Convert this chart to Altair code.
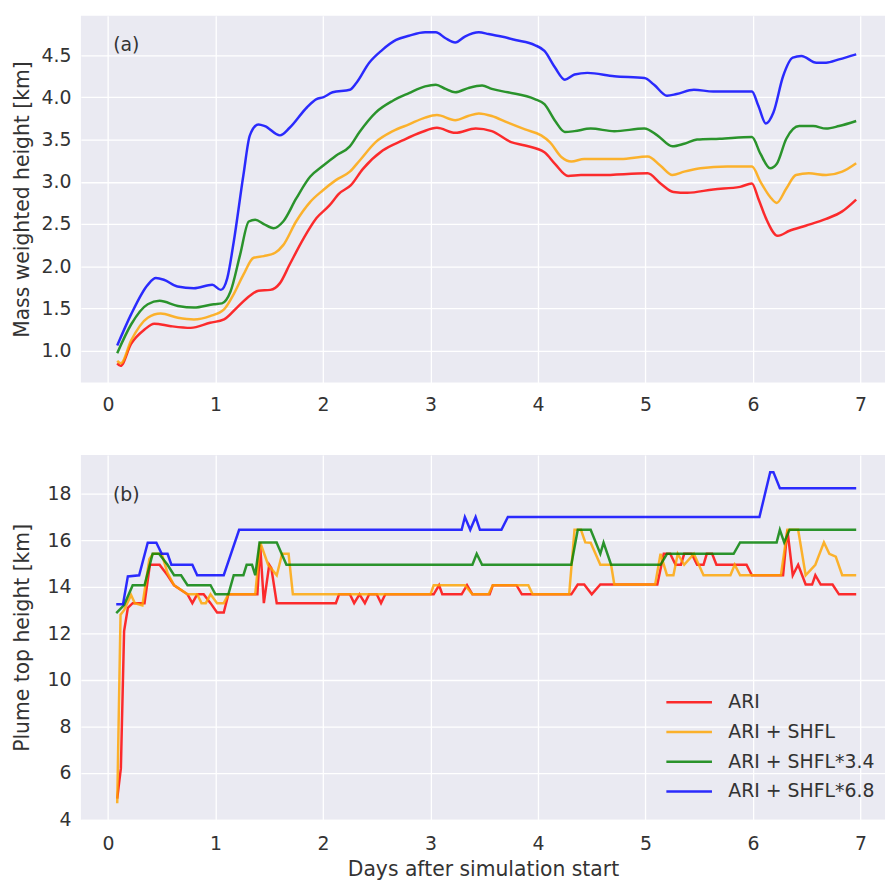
import altair as alt
import pandas as pd

series_names = ["ARI", "ARI + SHFL", "ARI + SHFL*3.4", "ARI + SHFL*6.8"]
series_colors = ["red", "orange", "green", "blue"]

# ---------------- panel (a): mass weighted height [km] ----------------
a_days_ari = [0.086, 0.117, 0.215, 0.34, 0.43, 0.585, 0.77, 0.95, 1.08, 1.20, 1.32, 1.40, 1.51, 1.60,
              1.69, 1.82, 1.94, 2.06, 2.15, 2.26, 2.37, 2.555, 2.74, 2.92, 3.06, 3.23, 3.42, 3.57, 3.75,
              3.88, 4.06, 4.16, 4.28, 4.40, 4.58, 5.02, 5.14, 5.26, 5.39, 5.63, 5.88, 5.99, 6.05, 6.12,
              6.23, 6.34, 6.49, 6.68, 6.83, 6.96]
a_ari = [0.85, 0.82, 1.08, 1.25, 1.32, 1.29, 1.27, 1.33, 1.37, 1.51, 1.65, 1.71, 1.72, 1.80,
         2.02, 2.33, 2.57, 2.72, 2.86, 2.96, 3.15, 3.37, 3.49, 3.59, 3.64, 3.58, 3.63, 3.60, 3.47,
         3.43, 3.35, 3.21, 3.07, 3.08, 3.08, 3.10, 2.98, 2.88, 2.87, 2.91, 2.94, 2.98, 2.80, 2.57,
         2.36, 2.42, 2.48, 2.56, 2.65, 2.79]

a_days_shfl = [0.086, 0.12, 0.215, 0.37, 0.49, 0.65, 0.80, 0.95, 1.08, 1.17, 1.26, 1.355, 1.45, 1.555,
               1.63, 1.75, 1.88, 2.0, 2.12, 2.25, 2.34, 2.49, 2.65, 2.80, 2.95, 3.06, 3.23, 3.35, 3.45,
               3.57, 3.72, 3.88, 4.03, 4.11, 4.22, 4.31, 4.43, 4.77, 5.02, 5.14, 5.25, 5.36, 5.51, 5.76,
               5.99, 6.07, 6.16, 6.22, 6.31, 6.40, 6.52, 6.68, 6.83, 6.96]
a_shfl = [0.88, 0.85, 1.12, 1.39, 1.44, 1.39, 1.37, 1.41, 1.49, 1.67, 1.90, 2.10, 2.12, 2.16,
          2.25, 2.53, 2.76, 2.90, 3.02, 3.12, 3.25, 3.47, 3.60, 3.68, 3.76, 3.79, 3.73, 3.78, 3.81,
          3.78, 3.70, 3.62, 3.55, 3.47, 3.29, 3.24, 3.27, 3.27, 3.30, 3.19, 3.08, 3.12, 3.16, 3.18,
          3.18, 3.00, 2.82, 2.75, 2.92, 3.08, 3.10, 3.08, 3.12, 3.22]

a_days_shfl34 = [0.086, 0.215, 0.37, 0.48, 0.65, 0.80, 0.985, 1.06, 1.14, 1.23, 1.31, 1.37, 1.45, 1.54,
                 1.63, 1.75, 1.88, 2.0, 2.12, 2.25, 2.34, 2.49, 2.65, 2.80, 2.95, 3.05, 3.14, 3.23, 3.35,
                 3.48, 3.57, 3.72, 3.97, 4.06, 4.16, 4.25, 4.34, 4.49, 4.71, 4.99, 5.11, 5.25, 5.36, 5.48,
                 5.69, 5.99, 6.07, 6.16, 6.22, 6.31, 6.43, 6.56, 6.68, 6.80, 6.96]
a_shfl34 = [0.97, 1.31, 1.55, 1.59, 1.53, 1.51, 1.55, 1.56, 1.70, 2.14, 2.53, 2.55, 2.50, 2.45,
            2.53, 2.80, 3.06, 3.19, 3.31, 3.42, 3.59, 3.82, 3.96, 4.05, 4.13, 4.15, 4.10, 4.06, 4.11,
            4.14, 4.10, 4.06, 3.98, 3.92, 3.72, 3.59, 3.60, 3.63, 3.60, 3.63, 3.55, 3.42, 3.45, 3.50,
            3.51, 3.53, 3.33, 3.16, 3.21, 3.51, 3.66, 3.66, 3.63, 3.66, 3.72]

a_days_shfl68 = [0.086, 0.215, 0.37, 0.446, 0.52, 0.646, 0.80, 0.97, 1.05, 1.11, 1.17, 1.26, 1.32, 1.40,
                 1.46, 1.60, 1.69, 1.85, 1.94, 2.0, 2.09, 2.25, 2.31, 2.43, 2.55, 2.68, 2.80, 2.95, 3.05,
                 3.14, 3.23, 3.32, 3.45, 3.54, 3.66, 3.79, 3.97, 4.06, 4.16, 4.25, 4.34, 4.46, 4.71, 4.99,
                 5.08, 5.20, 5.29, 5.45, 5.63, 5.99, 6.05, 6.12, 6.19, 6.28, 6.37, 6.45, 6.59, 6.68, 6.80,
                 6.96]
a_shfl68 = [1.06, 1.43, 1.78, 1.86, 1.84, 1.76, 1.74, 1.78, 1.72, 1.86, 2.29, 3.08, 3.55, 3.68,
            3.66, 3.55, 3.64, 3.88, 3.98, 4.00, 4.06, 4.09, 4.17, 4.41, 4.56, 4.68, 4.73, 4.77, 4.77,
            4.70, 4.65, 4.72, 4.77, 4.75, 4.72, 4.68, 4.62, 4.55, 4.35, 4.21, 4.27, 4.29, 4.25, 4.23,
            4.15, 4.02, 4.04, 4.09, 4.07, 4.07, 3.90, 3.69, 3.82, 4.25, 4.47, 4.49, 4.41, 4.41, 4.45,
            4.51]

# ---------------- panel (b): plume top height [km] ----------------
b_days_ari = [0.086, 0.12, 0.15, 0.185, 0.23, 0.34, 0.39, 0.48, 0.554, 0.615, 0.74, 0.785, 0.83, 0.89,
              0.954, 1.015, 1.077, 1.12, 1.39, 1.416, 1.45, 1.50, 1.52, 1.57, 2.12, 2.15, 2.25, 2.29,
              2.34, 2.39, 2.43, 2.50, 2.54, 2.58, 3.03, 3.08, 3.11, 3.29, 3.34, 3.39, 3.55, 3.58, 3.80,
              3.85, 4.31, 4.37, 4.43, 4.50, 4.58, 5.11, 5.17, 5.23, 5.28, 5.33, 5.36, 5.43, 5.48, 5.54,
              5.57, 5.62, 5.66, 5.94, 5.99, 6.28, 6.32, 6.37, 6.42, 6.49, 6.55, 6.58, 6.63, 6.74, 6.80,
              6.96]
b_ari = [4.9, 6.2, 12.1, 13.1, 13.3, 13.3, 14.95, 14.95, 14.5, 14.07, 13.68, 13.3, 13.68, 13.68,
         13.3, 12.9, 12.9, 13.68, 13.68, 15.8, 13.3, 14.95, 14.8, 13.3, 13.3, 13.68, 13.68, 13.3,
         13.68, 13.3, 13.68, 13.68, 13.3, 13.68, 13.68, 14.07, 13.68, 13.68, 14.07, 13.68, 13.68, 14.07, 14.07,
         13.68, 13.68, 14.1, 14.1, 13.68, 14.1, 14.1, 15.42, 15.42, 14.95, 14.95, 15.42, 15.42, 14.95, 14.95,
         15.42, 15.42, 14.95, 14.95, 14.5, 14.5, 16.45, 14.5, 14.95, 14.1, 14.1, 14.5, 14.1, 14.1, 13.68,
         13.68]

b_days_shfl = [0.086, 0.117, 0.15, 0.215, 0.25, 0.32, 0.385, 0.42, 0.50, 0.554, 0.615, 0.74, 0.83, 0.87,
               0.91, 0.954, 1.015, 1.077, 1.12, 1.37, 1.416, 1.49, 1.57, 1.62, 1.68, 1.72, 3.0, 3.03,
               3.32, 3.39, 3.54, 3.58, 3.91, 3.95, 4.29, 4.34, 4.40, 4.44, 4.49, 4.58, 4.68, 4.71, 5.09,
               5.14, 5.20, 5.26, 5.30, 5.36, 5.45, 5.54, 5.79, 5.83, 5.88, 6.26, 6.32, 6.42, 6.49, 6.58,
               6.66, 6.71, 6.77, 6.83, 6.96]
b_shfl = [4.7, 12.8, 13.0, 13.65, 13.3, 13.2, 15.2, 15.42, 15.42, 14.6, 14.07, 13.68, 13.68, 13.3,
          13.3, 13.68, 13.3, 13.3, 13.68, 13.68, 15.91, 14.95, 14.5, 15.42, 15.42, 13.68, 13.68, 14.07,
          14.07, 13.68, 13.68, 14.07, 14.07, 13.68, 13.68, 16.45, 16.45, 15.91, 15.9, 14.95, 14.95, 14.1, 14.1,
          15.42, 14.5, 14.5, 15.42, 14.95, 15.42, 14.5, 14.5, 14.95, 14.5, 14.5, 16.45, 16.45, 14.5, 14.95,
          15.91, 15.42, 15.3, 14.5, 14.5]

b_days_shfl34 = [0.077, 0.15, 0.23, 0.34, 0.415, 0.475, 0.554, 0.615, 0.68, 0.74, 0.954, 1.0, 1.12, 1.17,
                 1.26, 1.29, 1.34, 1.37, 1.41, 1.57, 1.66, 3.39, 3.43, 3.48, 4.31, 4.37, 4.49, 4.58, 4.61,
                 4.68, 5.14, 5.20, 5.82, 5.88, 6.22, 6.25, 6.29, 6.34, 6.96]
b_shfl34 = [12.87, 13.22, 14.07, 14.07, 15.42, 15.42, 14.95, 14.5, 14.5, 14.07, 14.07, 13.68, 13.68, 14.5,
            14.5, 14.95, 14.95, 14.5, 15.91, 15.91, 14.95, 14.95, 15.42, 14.95, 14.95, 16.45, 16.45, 15.42, 15.9,
            14.95, 14.95, 15.42, 15.42, 15.91, 15.91, 16.45, 15.91, 16.45, 16.45]

b_days_shfl68 = [0.077, 0.14, 0.185, 0.29, 0.37, 0.45, 0.50, 0.554, 0.59, 0.785, 0.83, 1.077, 1.22, 3.29,
                 3.32, 3.37, 3.42, 3.46, 3.66, 3.72, 6.06, 6.16, 6.19, 6.25, 6.96]
b_shfl68 = [13.25, 13.25, 14.45, 14.5, 15.9, 15.9, 15.42, 15.42, 14.95, 14.95, 14.5, 14.5, 16.45, 16.45,
            17.0, 16.45, 17.0, 16.45, 16.45, 17.0, 17.0, 18.93, 18.93, 18.24, 18.24]

panel_labels = ["(a)", "(b)"]
panel_label_days = [0.17, 0.17]
panel_label_values = [4.62, 17.96]

x_ticks = [0, 1, 2, 3, 4, 5, 6, 7]
a_ticks = [1.0, 1.5, 2.0, 2.5, 3.0, 3.5, 4.0, 4.5]
b_ticks = [4, 6, 8, 10, 12, 14, 16, 18]


def build(days_list, vals_list):
    frames = []
    for i, (d, v) in enumerate(zip(days_list, vals_list)):
        frames.append(pd.DataFrame({"day": d, "value": v, "run": series_names[i], "k": i}))
    return pd.concat(frames, ignore_index=True)


df_a = build([a_days_ari, a_days_shfl, a_days_shfl34, a_days_shfl68],
             [a_ari, a_shfl, a_shfl34, a_shfl68])
df_b = build([b_days_ari, b_days_shfl, b_days_shfl34, b_days_shfl68],
             [b_ari, b_shfl, b_shfl34, b_shfl68])

FONT = "DejaVu Sans"
TXT = "#333333"
X_DOMAIN = [-0.252, 7.228]
W = 811

color_scale = alt.Scale(domain=series_names, range=series_colors)


def panel(df, ydomain, yticks, yfmt, ytitle, height, xtitle, legend, label_idx, interp):
    if xtitle:
        xaxis = alt.Axis(title=xtitle, titlePadding=6, values=x_ticks, format="d",
                         minExtent=34, maxExtent=34, labelPadding=15)
    else:
        xaxis = alt.Axis(title=None, values=x_ticks, format="d", minExtent=33, maxExtent=33,
                         labelPadding=13)
    lines = alt.Chart(df).mark_line(strokeWidth=2.5, opacity=0.82, interpolate=interp).encode(
        x=alt.X("day:Q", scale=alt.Scale(domain=X_DOMAIN, nice=False, zero=False), axis=xaxis),
        y=alt.Y("value:Q", scale=alt.Scale(domain=ydomain, nice=False, zero=False),
                axis=alt.Axis(values=yticks, format=yfmt, title=ytitle, minExtent=40,
                              maxExtent=40, titlePadding=9, labelPadding=10)),
        color=alt.Color("run:N", scale=color_scale, sort=series_names, legend=legend),
    )
    lab = pd.DataFrame({"day": [panel_label_days[label_idx]],
                        "value": [panel_label_values[label_idx]],
                        "label": [panel_labels[label_idx]]})
    text = alt.Chart(lab).mark_text(font=FONT, fontSize=19, color=TXT, align="center",
                                    baseline="middle").encode(
        x="day:Q", y="value:Q", text="label:N")
    return alt.layer(lines, text).properties(width=W, height=height)


legend_b = alt.Legend(title=None, orient="none", legendX=602, legendY=238,
                      symbolType="M-2.3,0L2.3,0", symbolSize=400, symbolStrokeWidth=2.5,
                      symbolOpacity=0.82, labelFont=FONT, labelFontSize=19, labelColor=TXT,
                      labelOffset=28, rowPadding=8, padding=0, labelLimit=300)

top = panel(df_a, [0.6225, 4.9675], a_ticks, ".1f", "Mass weighted height [km]", 370, None,
            None, 0, "monotone")
bottom = panel(df_b, [3.99, 19.67], b_ticks, "d", "Plume top height [km]", 368,
               "Days after simulation start", legend_b, 1, "linear")

chart = alt.vconcat(top, bottom, spacing=40).resolve_scale(color="independent").resolve_legend(
    color="independent"
).properties(
    padding={"left": 4.5, "top": 4, "right": 0, "bottom": 0},
    background="white",
).configure_view(
    stroke=None, fill="#EAEAF2"
).configure_axis(
    grid=True, gridColor="white", gridWidth=1.3, domain=False, ticks=False,
    labelFont=FONT, labelFontSize=19, labelColor=TXT,
    titleFont=FONT, titleFontSize=20.5, titleColor=TXT, titleFontWeight="normal",
)

chart.save("out.html", embed_options={"renderer": "svg", "actions": False})
